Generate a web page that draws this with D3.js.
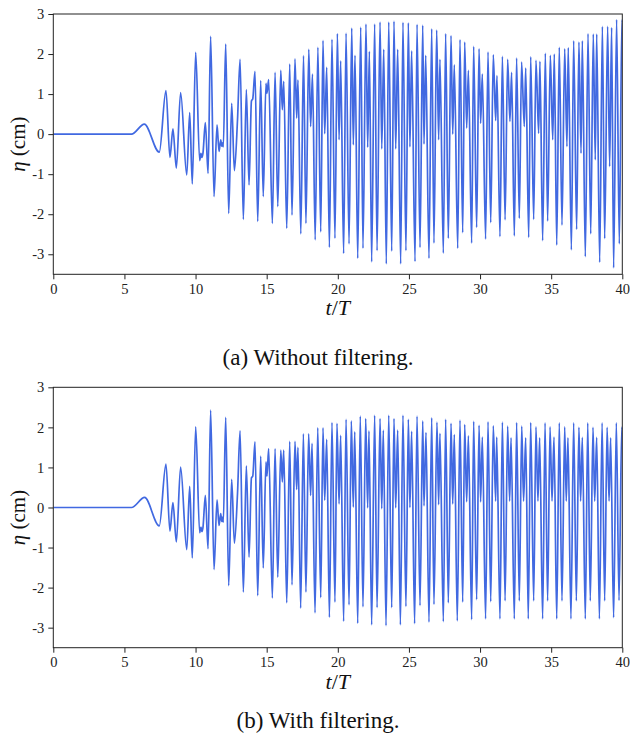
<!DOCTYPE html>
<html><head><meta charset="utf-8">
<script src="https://cdn.jsdelivr.net/npm/d3@7"></script>
<style>
body{margin:0;background:#fff}svg{display:block}
svg text{font-family:"Liberation Serif","Times New Roman","DejaVu Serif",serif !important;}
</style>
</head><body>
<script>
// ---- data (local extrema) ----
const xTicks = [0,5,10,15,20,25,30,35,40];
const yTicks = [-3,-2,-1,0,1,2,3];
const captions = ["(a) Without filtering.", "(b) With filtering."];

const seriesA = [
[0,0],[5.5,0],[6.4,0.25],[7.45,-0.45],[7.92,1.09],[8.2,-0.58],[8.41,0.13],[8.65,-0.85],[8.95,1.04],[9.38,-1.02],[9.59,0.54],[9.77,-1.24],
[10.01,2.04],[10.29,-0.66],[10.38,-0.48],[10.45,-0.58],[10.52,-0.48],[10.69,0.29],[10.88,-0.98],[11.06,2.44],[11.3,-1.56],[11.51,0.23],
[11.65,-0.43],[11.77,-0.14],[11.84,-0.3],[11.9,-0.22],[11.95,-0.32],[12.12,2.25],[12.33,-1.98],[12.54,0.77],[12.73,-0.91],[12.95,0.36],
[13.13,1.87],[13.36,-2.13],[13.57,1.11],[13.76,-1.27],[13.93,0.83],[14.02,0.88],[14.18,1.57],[14.37,-2.18],[14.58,1.34],[14.76,-1.56],
[14.95,1.27],[15.02,1.02],[15.14,1.36],[15.4,-2.23],[15.59,1.54],[15.78,-1.81],[15.99,1.59],[16.1,0.61],[16.2,1.32],[16.41,-2.35],
[16.62,1.75],[16.78,-2.02],[16.99,1.88],[17.11,0.4],[17.2,1.35],[17.4,-2.49],[17.59,1.96],[17.76,-2.23],[17.96,2.12],[18.09,0.19],
[18.22,1.5],[18.41,-2.64],[18.6,2.17],[18.8,-2.44],[18.96,2.34],[19.08,0.01],[19.22,1.67],[19.41,-2.83],[19.59,2.37],[19.8,-2.6],
[19.97,2.51],[20.09,-0.14],[20.2,1.83],[20.41,-2.98],[20.58,2.52],[20.79,-2.74],[20.98,2.65],[21.09,-0.27],[21.21,1.97],[21.4,-3.1],
[21.61,2.67],[21.77,-2.85],[21.98,2.75],[22.1,-0.33],[22.22,2.07],[22.38,-3.19],[22.59,2.75],[22.76,-2.91],[22.97,2.8],[23.09,-0.37],
[23.23,2.12],[23.41,-3.24],[23.58,2.8],[23.79,-2.92],[23.95,2.82],[24.07,-0.37],[24.21,2.12],[24.42,-3.24],[24.58,2.79],[24.79,-2.91],
[24.96,2.78],[25.07,-0.32],[25.19,2.08],[25.43,-3.18],[25.57,2.74],[25.78,-2.83],[25.97,2.72],[26.06,-0.25],[26.18,1.97],[26.41,-3.1],
[26.6,2.63],[26.76,-2.72],[26.95,2.6],[27.09,-0.14],[27.18,1.87],[27.42,-2.97],[27.58,2.51],[27.77,-2.6],[27.96,2.46],[28.08,0.0],
[28.19,1.73],[28.43,-2.85],[28.59,2.36],[28.78,-2.46],[28.92,2.3],[29.06,0.15],[29.18,1.59],[29.41,-2.72],[29.55,2.19],[29.76,-2.33],
[29.93,2.13],[30.04,0.27],[30.16,1.5],[30.39,-2.62],[30.56,2.05],[30.75,-2.21],[30.93,1.98],[31.1,0.34],[31.19,1.46],[31.4,-2.56],
[31.57,1.94],[31.76,-2.14],[31.94,1.87],[32.1,0.32],[32.22,1.54],[32.41,-2.54],[32.57,1.9],[32.76,-2.1],[32.92,1.8],[33.11,0.19],
[33.21,1.65],[33.42,-2.58],[33.56,1.93],[33.77,-2.13],[33.93,1.84],[34.12,0.02],[34.21,1.82],[34.4,-2.66],[34.59,2.02],[34.75,-2.17],
[34.94,1.97],[35.11,-0.14],[35.22,2.0],[35.39,-2.77],[35.57,2.17],[35.76,-2.27],[35.95,2.13],[36.11,-0.31],[36.2,2.16],[36.42,-2.89],
[36.58,2.33],[36.79,-2.38],[36.95,2.3],[37.1,-0.48],[37.19,2.33],[37.4,-3.06],[37.59,2.51],[37.78,-2.49],[37.96,2.5],[38.1,-0.64],
[38.2,2.5],[38.41,-3.2],[38.6,2.69],[38.76,-2.61],[38.97,2.69],[39.11,-0.81],[39.25,2.66],[39.39,-3.34],[39.6,2.86],[39.79,-2.74],
[39.97,2.85],[40,2.8]
];

const seriesB = [
[0,0],[5.5,0],[6.42,0.25],[7.45,-0.46],[7.92,1.08],[8.2,-0.59],[8.41,0.12],[8.65,-0.86],[8.95,1.01],[9.38,-1.05],[9.59,0.53],[9.77,-1.26],
[10.01,2.01],[10.29,-0.63],[10.38,-0.49],[10.45,-0.6],[10.52,-0.5],[10.69,0.3],[10.88,-1.03],[11.06,2.43],[11.3,-1.55],[11.51,0.19],
[11.65,-0.45],[11.77,-0.15],[11.84,-0.35],[11.9,-0.24],[11.95,-0.37],[12.12,2.25],[12.33,-1.95],[12.54,0.7],[12.73,-0.89],[12.95,0.35],
[13.13,1.91],[13.36,-2.11],[13.57,1.04],[13.76,-1.24],[13.93,0.74],[14.02,0.78],[14.18,1.64],[14.37,-2.2],[14.58,1.28],[14.76,-1.51],
[14.95,1.14],[15.02,0.78],[15.14,1.47],[15.4,-2.26],[15.59,1.47],[15.78,-1.74],[15.99,1.43],[16.1,0.64],[16.2,1.43],[16.41,-2.38],
[16.62,1.65],[16.78,-1.93],[16.99,1.65],[17.11,0.45],[17.2,1.5],[17.39,-2.51],[17.58,1.84],[17.76,-2.11],[17.95,1.84],[18.09,0.3],
[18.19,1.6],[18.4,-2.63],[18.59,1.99],[18.8,-2.25],[18.96,1.99],[19.08,0.18],[19.22,1.7],[19.41,-2.74],[19.59,2.12],[19.8,-2.36],
[19.94,2.1],[20.09,0.09],[20.2,1.8],[20.41,-2.84],[20.58,2.2],[20.79,-2.43],[20.95,2.16],[21.09,0.01],[21.19,1.89],[21.4,-2.89],
[21.58,2.28],[21.77,-2.48],[21.96,2.22],[22.1,-0.01],[22.19,1.91],[22.38,-2.93],[22.59,2.3],[22.76,-2.5],[22.97,2.22],[23.09,-0.03],
[23.2,1.93],[23.39,-2.95],[23.58,2.3],[23.79,-2.5],[23.95,2.22],[24.07,-0.01],[24.21,1.93],[24.4,-2.93],[24.58,2.3],[24.79,-2.47],
[24.96,2.2],[25.07,0.0],[25.19,1.9],[25.4,-2.9],[25.57,2.28],[25.78,-2.45],[25.97,2.16],[26.06,0.04],[26.2,1.87],[26.41,-2.86],
[26.6,2.24],[26.76,-2.42],[26.97,2.13],[27.09,0.07],[27.18,1.85],[27.42,-2.85],[27.58,2.2],[27.77,-2.38],[27.96,2.1],[28.08,0.09],
[28.19,1.82],[28.4,-2.83],[28.59,2.18],[28.78,-2.36],[28.92,2.07],[29.06,0.14],[29.18,1.79],[29.41,-2.8],[29.55,2.15],[29.76,-2.3],
[29.93,2.05],[30.04,0.14],[30.16,1.76],[30.39,-2.78],[30.56,2.14],[30.75,-2.35],[30.93,2.04],[31.1,0.16],[31.17,1.76],[31.4,-2.78],
[31.57,2.13],[31.76,-2.33],[31.94,2.03],[32.08,0.16],[32.18,1.74],[32.41,-2.78],[32.57,2.12],[32.76,-2.33],[32.93,2.03],[33.06,0.16],
[33.21,1.74],[33.39,-2.78],[33.56,2.12],[33.77,-2.33],[33.93,2.01],[34.07,0.16],[34.19,1.74],[34.4,-2.78],[34.57,2.11],[34.75,-2.33],
[34.92,2.01],[35.06,0.16],[35.2,1.76],[35.39,-2.78],[35.57,2.11],[35.76,-2.33],[35.95,2.01],[36.06,0.16],[36.18,1.74],[36.39,-2.78],
[36.58,2.11],[36.77,-2.33],[36.95,2.0],[37.07,0.16],[37.19,1.75],[37.4,-2.78],[37.57,2.11],[37.75,-2.33],[37.94,2.0],[38.06,0.16],
[38.2,1.75],[38.39,-2.78],[38.58,2.11],[38.76,-2.33],[38.93,2.0],[39.07,0.16],[39.18,1.74],[39.39,-2.75],[39.58,2.11],[39.77,-2.32],
[39.96,2.0],[40,1.95]
];

// ---- drawing ----
const W = 630, H = 746;
const svg = d3.select("body").append("svg").attr("width", W).attr("height", H);
const panels = [
  {data: seriesA, top: 14, bottom: 274.3, caption: captions[0], capY: 365},
  {data: seriesB, top: 387.3, bottom: 647.7, caption: captions[1], capY: 728}
];
const left = 53.3, right = 622.3;

panels.forEach((p, i) => {
  const x = d3.scaleLinear().domain([0, 40]).range([left, right]);
  const y = d3.scaleLinear().domain([-3.5, 3]).range([p.bottom, p.top]);
  const g = svg.append("g");

  g.append("clipPath").attr("id", "clip" + i).append("rect")
    .attr("x", left).attr("y", p.top).attr("width", right - left).attr("height", p.bottom - p.top);

  const line = d3.line().x(d => x(d[0])).y(d => y(d[1])).curve(d3.curveMonotoneX);
  g.append("path").datum(p.data).attr("d", line)
    .attr("fill", "none").attr("stroke", "#4169e1").attr("stroke-width", 1.7)
    .attr("stroke-linejoin", "round").attr("clip-path", `url(#clip${i})`);

  // frame
  g.append("rect").attr("x", left).attr("y", p.top).attr("width", right - left).attr("height", p.bottom - p.top)
    .attr("fill", "none").attr("stroke", "#222").attr("stroke-width", 1);

  const xAxis = g.append("g").attr("transform", `translate(0,${p.bottom})`)
    .call(d3.axisBottom(x).tickValues(xTicks).tickSize(5).tickPadding(4).tickFormat(d3.format("d")));
  const yAxis = g.append("g").attr("transform", `translate(${left},0)`)
    .call(d3.axisLeft(y).tickValues(yTicks).tickSize(5).tickPadding(4).tickFormat(d => d < 0 ? "-" + Math.abs(d) : String(d)));
  [xAxis, yAxis].forEach(a => {
    a.attr("font-family", null);
    a.select(".domain").remove();
    a.selectAll(".tick line").attr("stroke", "#222");
    a.selectAll(".tick text").style("font-size", "14.5px").attr("fill", "#222");
  });

  // x label t/T
  const xl = g.append("text").attr("x", (left + right) / 2).attr("y", p.bottom + 41)
    .attr("text-anchor", "middle").style("font-size", "22px").attr("fill", "#111");
  xl.append("tspan").attr("font-style", "italic").text("t");
  xl.append("tspan").text("/");
  xl.append("tspan").attr("font-style", "italic").text("T");

  // y label eta (cm)
  const yl = g.append("text")
    .attr("transform", `translate(25,${(p.top + p.bottom) / 2}) rotate(-90)`)
    .attr("text-anchor", "middle").style("font-size", "21px").attr("fill", "#111");
  yl.append("tspan").attr("font-style", "italic").text("η");
  yl.append("tspan").text(" (cm)");

  // caption
  svg.append("text").attr("x", 318).attr("y", p.capY).attr("text-anchor", "middle")
    .style("font-size", "23px").attr("fill", "#111").text(p.caption);
});
</script>
</body></html>
